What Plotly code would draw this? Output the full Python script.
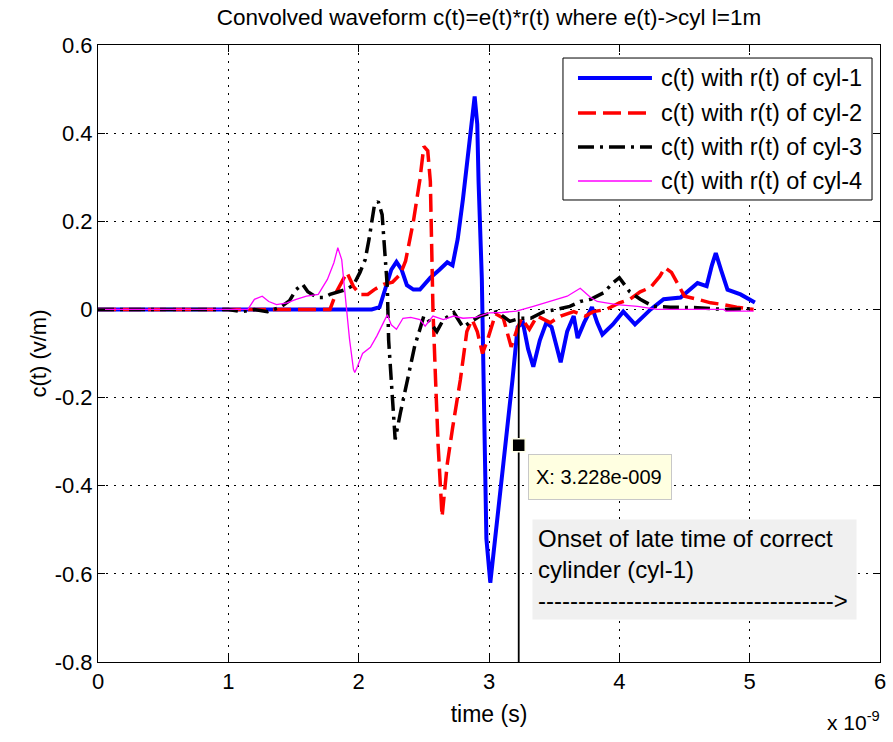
import plotly.graph_objects as go

# ---- convolved waveforms, time in units of 1e-9 s ----
t_cyl1 = [0, 1.0, 2.1, 2.16, 2.2, 2.25, 2.29, 2.33, 2.37, 2.42, 2.47, 2.55, 2.62, 2.68, 2.72,
          2.76, 2.80, 2.83, 2.86, 2.89, 2.91, 2.92, 2.945, 2.955, 2.97, 2.98, 3.01, 3.05, 3.11,
          3.18, 3.22, 3.26, 3.30, 3.34, 3.39, 3.44, 3.48, 3.55, 3.60, 3.65, 3.68, 3.73, 3.79,
          3.83, 3.87, 3.95, 4.03, 4.12, 4.24, 4.34, 4.47, 4.60, 4.67, 4.71, 4.74, 4.78, 4.83,
          4.93, 5.04]
v_cyl1 = [0, 0, 0, 0.005, 0.04, 0.09, 0.108, 0.09, 0.055, 0.045, 0.045, 0.072, 0.09, 0.107, 0.10,
          0.16, 0.25, 0.33, 0.42, 0.483, 0.42, 0.29, 0.07, -0.08, -0.355, -0.52, -0.62, -0.505, -0.35,
          -0.16, -0.04, -0.03, -0.09, -0.13, -0.07, -0.03, -0.04, -0.12, -0.05, -0.015, -0.065, -0.03, 0.005,
          -0.03, -0.057, -0.034, -0.005, -0.034, 0.0, 0.023, 0.027, 0.06, 0.053, 0.10, 0.128, 0.09, 0.045,
          0.034, 0.016]

t_cyl2 = [0, 1.0, 1.78, 1.83, 1.88, 1.91, 1.96, 2.01, 2.07, 2.12, 2.19, 2.26, 2.32, 2.36, 2.42,
          2.47, 2.50, 2.53, 2.55, 2.56, 2.57, 2.59, 2.61, 2.64, 2.68, 2.72, 2.78, 2.83, 2.87,
          2.91, 2.95, 2.99, 3.05, 3.11, 3.17, 3.21, 3.25, 3.31, 3.37, 3.47, 3.55, 3.65, 3.74,
          3.80, 3.90, 4.00, 4.08, 4.16, 4.24, 4.31, 4.35, 4.40, 4.45, 4.50, 4.60, 4.70, 4.80,
          4.90, 5.03]
v_cyl2 = [0, 0, 0, 0.04, 0.07, 0.084, 0.052, 0.034, 0.034, 0.045, 0.057, 0.062, 0.08, 0.11, 0.20,
          0.295, 0.37, 0.36, 0.29, 0.14, 0.0, -0.16, -0.31, -0.47, -0.35, -0.27, -0.16, -0.05, -0.023,
          -0.05, -0.10, -0.068, -0.01, -0.02, -0.085, -0.05, -0.02, -0.045, -0.015, -0.03, -0.015, -0.005, -0.015,
          -0.005, 0.0, 0.015, 0.023, 0.04, 0.05, 0.075, 0.095, 0.084, 0.055, 0.03, 0.023, 0.015, 0.011,
          0.005, 0.0]

t_cyl3 = [0, 1.0, 1.1, 1.2, 1.3, 1.4, 1.47, 1.52, 1.57, 1.61, 1.68, 1.73, 1.78, 1.84, 1.90,
          1.96, 2.01, 2.05, 2.08, 2.12, 2.15, 2.18, 2.20, 2.22, 2.23, 2.25, 2.27, 2.28, 2.32,
          2.36, 2.39, 2.43, 2.47, 2.50, 2.53, 2.60, 2.65, 2.73, 2.80, 2.85, 2.93, 3.06, 3.16,
          3.24, 3.32, 3.42, 3.52, 3.62, 3.70, 3.78, 3.88, 3.95, 4.00, 4.08, 4.16, 4.26, 4.39,
          4.60, 4.80, 5.03]
v_cyl3 = [0, 0, -0.005, 0, -0.005, 0.005, 0.02, 0.045, 0.057, 0.04, 0.027, 0.027, 0.034, 0.04, 0.045,
          0.055, 0.084, 0.113, 0.16, 0.235, 0.245, 0.215, 0.14, 0.05, -0.07, -0.16, -0.257, -0.295, -0.235,
          -0.18, -0.136, -0.083, -0.045, -0.015, -0.023, -0.05, -0.023, -0.007, -0.04, -0.03, -0.015, -0.005, -0.027,
          -0.02, -0.02, -0.005, 0.0, 0.007, 0.018, 0.023, 0.038, 0.06, 0.072, 0.04, 0.023, 0.007, 0.005,
          0.004, 0.0, 0.002]

t_cyl4 = [0, 1.0, 1.15, 1.2, 1.26, 1.31, 1.37, 1.45, 1.52, 1.60, 1.69, 1.76, 1.81, 1.84, 1.87,
          1.89, 1.91, 1.93, 1.96, 1.97, 1.99, 2.03, 2.09, 2.14, 2.19, 2.22, 2.25, 2.29, 2.34,
          2.40, 2.47, 2.51, 2.57, 2.65, 2.73, 2.80, 2.90, 3.00, 3.10, 3.21, 3.34, 3.47, 3.60,
          3.70, 3.78, 3.83, 3.98, 4.14, 4.29, 4.80, 4.82, 5.03]
v_cyl4 = [0, 0, 0, 0.023, 0.03, 0.018, 0.011, 0.015, 0.023, 0.03, 0.034, 0.068, 0.106, 0.14, 0.113,
          0.052, -0.007, -0.068, -0.136, -0.143, -0.13, -0.10, -0.086, -0.06, -0.03, -0.012, -0.035, -0.045, -0.02,
          -0.018, -0.023, -0.038, -0.015, -0.023, -0.015, -0.02, -0.018, -0.008, -0.007, -0.004, 0.007, 0.018, 0.03,
          0.048, 0.027, 0.018, 0.011, 0.007, 0.0, 0.0, -0.004, -0.004]

series_names = ["c(t) with r(t) of cyl-1", "c(t) with r(t) of cyl-2",
                "c(t) with r(t) of cyl-3", "c(t) with r(t) of cyl-4"]

# axis ticks
x_tick_vals = [0, 1, 2, 3, 4, 5, 6]
x_tick_text = ["0", "1", "2", "3", "4", "5", "6"]
y_tick_vals = [-0.8, -0.6, -0.4, -0.2, 0, 0.2, 0.4, 0.6]
y_tick_text = ["-0.8", "-0.6", "-0.4", "-0.2", "0", "0.2", "0.4", "0.6"]

# late-time onset marker for cyl-1
onset_time = 3.228
onset_tip_value = -0.308
onset_line_y = [-0.8, -0.005]

FONT = "Liberation Sans, Arial, Helvetica, sans-serif"

styles = [
    dict(color="#0000FF", width=4, dash="solid"),
    dict(color="#FF0000", width=3.5, dash="18px,7px"),
    dict(color="#000000", width=3.5, dash="16px,6px,3px,6px"),
    dict(color="#FF00FF", width=1.3, dash="solid"),
]

fig = go.Figure()
for name, t, v, st in zip(series_names, [t_cyl1, t_cyl2, t_cyl3, t_cyl4],
                          [v_cyl1, v_cyl2, v_cyl3, v_cyl4], styles):
    fig.add_trace(go.Scatter(x=t, y=v, mode="lines", name=name, showlegend=False,
                             line=dict(color=st["color"], width=st["width"], dash=st["dash"])))

# vertical cursor line and data tip
fig.add_trace(go.Scatter(x=[onset_time, onset_time], y=onset_line_y, mode="lines",
                         line=dict(color="black", width=1.8), showlegend=False, hoverinfo="skip"))
fig.add_trace(go.Scatter(x=[onset_time], y=[onset_tip_value], mode="markers", showlegend=False,
                         marker=dict(symbol="square", size=13, color="black",
                                     line=dict(color="#FFFFE8", width=1.5))))

annotations = [
    dict(x=onset_time + 0.075, y=-0.38, xref="x", yref="y", xanchor="left", yanchor="middle",
         text=f"X: {onset_time:.3f}e-009", showarrow=False, align="left",
         font=dict(family=FONT, size=20, color="black"), width=128, height=30,
         bgcolor="#FFFFE1", bordercolor="#C8C8C8", borderwidth=1, borderpad=7),
    dict(x=(532 - 98) / 782, y=(662 - 519) / 617, xref="paper", yref="paper",
         xanchor="left", yanchor="top", showarrow=False, align="left",
         text="Onset of late time of correct<br>cylinder (cyl-1)<br>" + "-" * 37 + ">",
         font=dict(family=FONT, size=24, color="black"),
         bgcolor="#F0F0F0", borderpad=5, width=313),
    dict(x=1.003, y=-0.072, xref="paper", yref="paper", xanchor="right", yanchor="top",
         text="x 10<sup>-9</sup>", showarrow=False, font=dict(family=FONT, size=21, color="black")),
]

# legend box drawn in paper coordinates
shapes = [dict(type="rect", xref="paper", yref="paper", x0=0.5946, x1=0.9898, y0=0.7488, y1=0.9789,
               line=dict(color="black", width=1), fillcolor="white", layer="above")]
row_y = [0.9465, 0.8898, 0.8347, 0.7796]
for name, st, yy in zip(series_names, styles, row_y):
    shapes.append(dict(type="line", xref="paper", yref="paper", x0=0.6138, x1=0.7084, y0=yy, y1=yy,
                       line=dict(color=st["color"], width=st["width"], dash=st["dash"]), layer="above"))
    annotations.append(dict(x=0.7174, y=yy, xref="paper", yref="paper", xanchor="left", yanchor="middle",
                            text=name, showarrow=False, font=dict(family=FONT, size=23.5, color="black")))

axis_common = dict(showline=True, linecolor="black", linewidth=1, mirror="allticks",
                   ticks="inside", ticklen=7, tickcolor="black", tickwidth=1,
                   showgrid=True, gridcolor="black", gridwidth=1, griddash="2px,6px",
                   zeroline=False, automargin=False,
                   tickfont=dict(family=FONT, size=22, color="black"))

fig.update_layout(
    width=893, height=742,
    margin=dict(l=98, r=13, t=45, b=80),
    paper_bgcolor="white", plot_bgcolor="white",
    title=dict(text="Convolved waveform c(t)=e(t)*r(t) where e(t)->cyl l=1m",
               x=(98 + 880) / 2 / 893, xanchor="center", y=1 - 17 / 742, yanchor="middle",
               font=dict(family=FONT, size=22.5, color="black")),
    xaxis=dict(range=[0, 6], tickvals=x_tick_vals, ticktext=x_tick_text,
               title=dict(text="time (s)", standoff=12, font=dict(family=FONT, size=23, color="black")),
               **axis_common),
    yaxis=dict(range=[-0.8, 0.6], tickvals=y_tick_vals, ticktext=y_tick_text,
               title=dict(text="c(t) (v/m)", standoff=1, font=dict(family=FONT, size=22, color="black")),
               **axis_common),
    shapes=shapes,
    annotations=annotations,
)

fig.write_html("out.html")
